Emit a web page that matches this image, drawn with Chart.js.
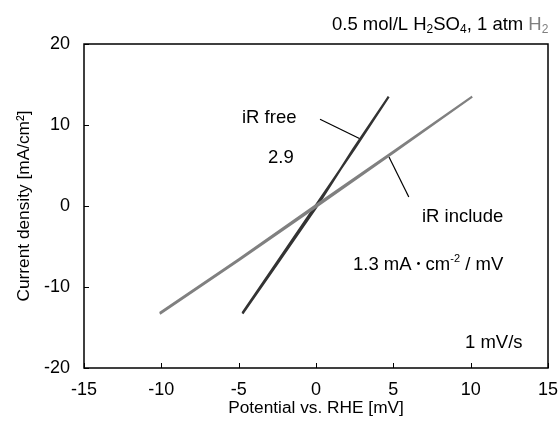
<!DOCTYPE html>
<html>
<head>
<meta charset="utf-8">
<script src="https://cdn.jsdelivr.net/npm/chart.js@4.4.1/dist/chart.umd.min.js"></script>
<style>
  html, body { margin: 0; padding: 0; background: #fff; }
  #wrap { width: 560px; height: 421px; }
</style>
</head>
<body>
<div id="wrap"><canvas id="chart"></canvas></div>
<script>
// potential [mV] vs current density [mA/cm2]
const irIncludeX = [-10.1, -5, 0, 5, 10.1, 5, 0, -5, -10.1];
const irIncludeY = [-13.2, -6.6, 0.1, 6.7, 13.5, 6.6, -0.1, -6.7, -13.3];
const irFreeX = [-4.75, -2.5, 0, 2.5, 4.7, 2.4, 0, -2.5, -4.75];
const irFreeY = [-13.2, -6.9, 0.1, 7.1, 13.5, 7.0, -0.2, -7.1, -13.3];

// leader lines next to the labels
const freeLeaderX = [0.26, 2.84];
const freeLeaderY = [10.7, 8.3];
const includeLeaderX = [4.72, 6.0];
const includeLeaderY = [6.05, 1.1];

const xTicks = [-15, -10, -5, 0, 5, 10, 15];
const yTicks = [-20, -10, 0, 10, 20];

const toPoints = (xs, ys) => xs.map((x, i) => ({ x: x, y: ys[i] }));

const FONT = '"Liberation Sans", Arial, sans-serif';

// frame, inward ticks and the text notes
const decorations = {
  id: 'decorations',
  afterDraw(chart) {
    const { ctx, chartArea: a, scales: { x, y } } = chart;
    ctx.save();
    ctx.strokeStyle = '#000';
    ctx.lineWidth = 1.5;
    ctx.strokeRect(a.left, a.top, a.right - a.left, a.bottom - a.top);
    ctx.lineWidth = 1;
    ctx.beginPath();
    xTicks.forEach(v => {
      const px = Math.round(x.getPixelForValue(v)) + 0.5;
      ctx.moveTo(px, a.bottom);
      ctx.lineTo(px, a.bottom - 5);
    });
    yTicks.forEach(v => {
      const py = Math.round(y.getPixelForValue(v)) + 0.5;
      ctx.moveTo(a.left, py);
      ctx.lineTo(a.left + 5, py);
    });
    ctx.stroke();

    ctx.fillStyle = '#000';
    ctx.textBaseline = 'middle';
    ctx.textAlign = 'left';
    ctx.font = '18.5px ' + FONT;
    ctx.fillText('iR free', 242, 118);
    ctx.fillText('2.9', 268, 158);
    ctx.fillText('iR include', 422, 217);
    ctx.fillText('1 mV/s', 465, 343);

    // 1.3 mA·cm-2 / mV
    let cx = 353;
    const put = (t, dy, size, color, fam) => {
      ctx.font = size + 'px ' + (fam || FONT);
      ctx.fillStyle = color || '#000';
      ctx.fillText(t, cx, dy);
      cx += ctx.measureText(t).width;
    };
    put('1.3 mA', 265, 18.5);
    put('\u30fb', 263, 14, '#000', '"Noto Sans CJK JP"');
    put('cm', 265, 18.5);
    put('-2', 259, 11);
    put(' / mV', 265, 18.5);

    // header: 0.5 mol/L H2SO4, 1 atm H2
    cx = 332;
    put('0.5 mol/L H', 25, 18.5);
    put('2', 30, 12);
    put('SO', 25, 18.5);
    put('4', 30, 12);
    put(', 1 atm ', 25, 18.5);
    put('H', 25, 18.5, '#7f7f7f');
    put('2', 30, 12, '#7f7f7f');
    ctx.restore();
  }
};

new Chart(document.getElementById('chart'), {
  type: 'scatter',
  data: {
    datasets: [
      {
        label: 'iR include',
        data: toPoints(irIncludeX, irIncludeY),
        showLine: true,
        borderColor: '#808080',
        borderWidth: 2.2,
        pointRadius: 0,
        tension: 0
      },
      {
        label: 'iR free',
        data: toPoints(irFreeX, irFreeY),
        showLine: true,
        borderColor: '#333333',
        borderWidth: 2.2,
        pointRadius: 0,
        tension: 0
      },
      {
        label: 'free leader',
        data: toPoints(freeLeaderX, freeLeaderY),
        showLine: true,
        borderColor: '#000',
        borderWidth: 1.2,
        pointRadius: 0
      },
      {
        label: 'include leader',
        data: toPoints(includeLeaderX, includeLeaderY),
        showLine: true,
        borderColor: '#000',
        borderWidth: 1.2,
        pointRadius: 0
      }
    ]
  },
  options: {
    responsive: true,
    maintainAspectRatio: false,
    animation: false,
    layout: { padding: { top: 44, right: 12, left: 0, bottom: 0 } },
    plugins: {
      legend: { display: false },
      tooltip: { enabled: false }
    },
    scales: {
      x: {
        type: 'linear',
        min: -15,
        max: 15,
        afterBuildTicks: s => { s.ticks = xTicks.map(v => ({ value: v })); },
        afterFit: s => { s.height = 53; s.paddingLeft = 0; s.paddingRight = 0; },
        grid: { display: false },
        border: { display: false },
        ticks: { color: '#000', padding: 3, font: { family: FONT, size: 18 } },
        title: {
          display: true,
          text: 'Potential vs. RHE [mV]',
          color: '#000',
          font: { family: FONT, size: 17.3 },
          padding: { top: 0, bottom: 2 }
        }
      },
      y: {
        type: 'linear',
        min: -20,
        max: 20,
        afterBuildTicks: s => { s.ticks = yTicks.map(v => ({ value: v })); },
        afterFit: s => { s.width = 84; s.paddingTop = 0; s.paddingBottom = 0; },
        grid: { display: false },
        border: { display: false },
        ticks: { color: '#000', padding: 6, font: { family: FONT, size: 18 } },
        title: {
          display: true,
          text: 'Current density [mA/cm\u00b2]',
          color: '#000',
          font: { family: FONT, size: 17.3 },
          padding: { top: 14, bottom: 0 }
        }
      }
    }
  },
  plugins: [decorations]
});
</script>
</body>
</html>
